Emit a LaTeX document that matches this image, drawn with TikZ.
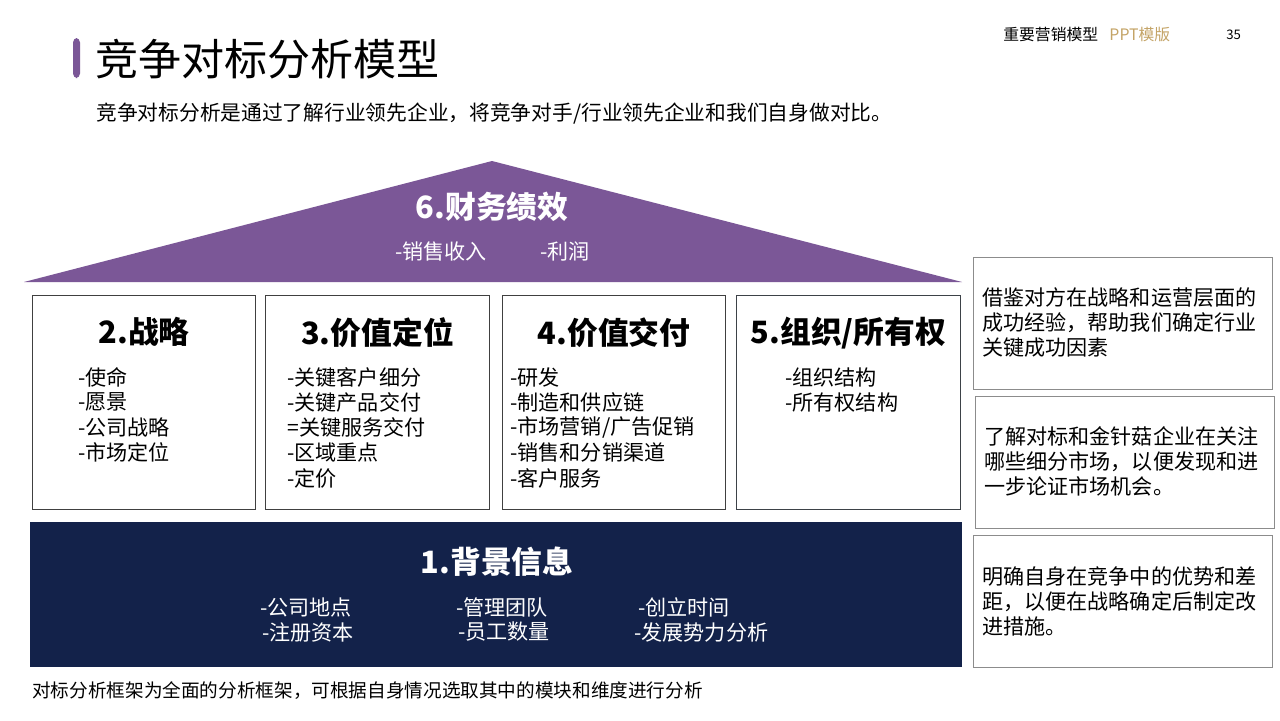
\documentclass[tikz,border=0pt]{standalone}
\usepackage{fontspec}
\setmainfont{Noto Sans CJK SC}
\usetikzlibrary{positioning}
\definecolor{roofpurple}{HTML}{7B5797}
\definecolor{basenavy}{HTML}{13224A}
\definecolor{tplgold}{HTML}{C4A467}
\tikzset{
  pillar/.style={draw=black!75, line width=0.6pt, anchor=north west,
    minimum height=4.28cm, inner sep=0pt},
  note/.style={draw=black!45, line width=0.6pt, anchor=north west,
    minimum width=5.98cm, minimum height=2.64cm, inner sep=0pt},
  item/.style={font=\fontsize{12}{14}\selectfont, anchor=west, inner sep=0pt},
  head/.style={font=\fontsize{17.5}{20}\selectfont\bfseries, inner sep=0pt},
  notetext/.style={font=\fontsize{12}{14.2}\selectfont, align=left,
    anchor=north west, inner sep=0pt},
}
\begin{document}
\begin{tikzpicture}[x=0.02cm, y=-0.02cm]
  \useasboundingbox [fill=white] (0,0) rectangle (1280,720);
  % header
  \fill [roofpurple, rounded corners=2.5] (73,38) rectangle (80,78);
  \node [anchor=west, inner sep=0pt, font=\fontsize{24.5}{28}\selectfont]
    (title) at (95,59) {竞争对标分析模型};
  \node [anchor=west, inner sep=0pt, font=\fontsize{11.8}{14}\selectfont]
    (subtitle) at (96,114)
    {竞争对标分析是通过了解行业领先企业，将竞争对手/行业领先企业和我们自身做对比。};
  \node [anchor=west, inner sep=0pt, font=\fontsize{9}{11}\selectfont]
    (series) at (1003,35) {重要营销模型};
  \node [anchor=west, inner sep=0pt, font=\fontsize{9}{11}\selectfont,
    text=tplgold, right=6pt of series] (tpl) {PPT模版};
  \node [anchor=west, inner sep=0pt, font=\fontsize{7.5}{9}\selectfont]
    (page) at (1226,35) {35};
  % roof
  \coordinate (apex) at (492,161);
  \coordinate (eaveL) at (24,282);
  \coordinate (eaveR) at (962,282);
  \fill [roofpurple] (eaveL) -- (apex) -- (eaveR) -- cycle;
  \node [head, text=white] (roof) at (492,207) {6.财务绩效};
  \node [item, anchor=center, text=white] (roof-1) at (441,251) {-销售收入};
  \node [item, anchor=center, text=white] (roof-2) at (565,251) {-利润};
  % pillars
  \node [pillar, minimum width=4.46cm] (b2) at (32,295) {};
  \node [pillar, minimum width=4.48cm] (b3) at (265,295) {};
  \node [pillar, minimum width=4.46cm] (b4) at (502,295) {};
  \node [pillar, minimum width=4.48cm, draw=black!70!cyan!60!black] (b5) at (736,295) {};
  \node [head, below=0.44cm of b2.north] (h2) {2.战略};
  \node [head, below=0.44cm of b3.north] (h3) {3.价值定位};
  \node [head, below=0.44cm of b4.north] (h4) {4.价值交付};
  \node [head, below=0.44cm of b5.north] (h5) {5.组织/所有权};
  \foreach \t [count=\i] in {-使命,-愿景,-公司战略,-市场定位}
    \node [item] (b2-\i) at (78,{377+25.3*(\i-1)}) {\t};
  \foreach \t [count=\i] in {-关键客户细分,-关键产品交付,=关键服务交付,-区域重点,-定价}
    \node [item] (b3-\i) at (287,{377+25.3*(\i-1)}) {\t};
  \foreach \t [count=\i] in {-研发,-制造和供应链,-市场营销/广告促销,-销售和分销渠道,-客户服务}
    \node [item] (b4-\i) at (510,{377+25.3*(\i-1)}) {\t};
  \foreach \t [count=\i] in {-组织结构,-所有权结构}
    \node [item] (b5-\i) at (785,{377+25.3*(\i-1)}) {\t};
  % base
  \node [fill=basenavy, anchor=north west, minimum width=18.64cm,
    minimum height=2.9cm, inner sep=0pt] (base) at (30,522) {};
  \node [head, text=white] (h1) at (497,562) {1.背景信息};
  \foreach \t/\x/\y [count=\i] in {-公司地点/260/607, -管理团队/456/607, -创立时间/638/607,
      -注册资本/262/632, -员工数量/458/632, -发展势力分析/634/632}
    \node [item, text=white] (base-\i) at (\x,\y) {\t};
  \node [anchor=west, inner sep=0pt, font=\fontsize{10.6}{12}\selectfont]
    (footer) at (32,691) {对标分析框架为全面的分析框架，可根据自身情况选取其中的模块和维度进行分析};
  % notes
  \node [note] (nA) at (973,257) {};
  \node [note] (nB) at (975,396) {};
  \node [note] (nC) at (973,535) {};
  \node [notetext] (tA) at (982,287) {借鉴对方在战略和运营层面的\\成功经验，帮助我们确定行业\\关键成功因素};
  \node [notetext] (tB) at (984,426) {了解对标和金针菇企业在关注\\哪些细分市场，以便发现和进\\一步论证市场机会。};
  \node [notetext] (tC) at (982,566) {明确自身在竞争中的优势和差\\距，以便在战略确定后制定改\\进措施。};
\end{tikzpicture}
\end{document}
